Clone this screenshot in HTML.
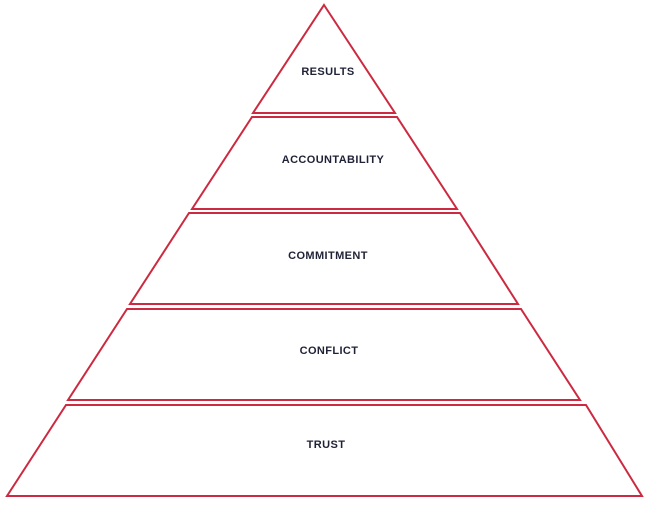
<!DOCTYPE html>
<html><head><style>body{margin:0;background:#fff}</style></head><body>
<svg width="648" height="502" viewBox="0 0 648 502" xmlns="http://www.w3.org/2000/svg">
<g fill="none" stroke="#cc2a40" stroke-width="2" stroke-linejoin="miter">
<polygon points="324,5 395,113 253,113"/>
<polygon points="252,117 397,117 457,209 192,209"/>
<polygon points="189,213 460,213 518,304 130,304"/>
<polygon points="127,309 521,309 580,400 68,400"/>
<polygon points="66,405 586,405 642,496 7,496"/>
</g>
<g font-family="Liberation Sans, sans-serif" font-weight="bold" font-size="11" letter-spacing="0.4" fill="#1f2236" text-anchor="middle">
<text x="328" y="75">RESULTS</text>
<text x="333" y="163">ACCOUNTABILITY</text>
<text x="328" y="259">COMMITMENT</text>
<text x="329" y="354">CONFLICT</text>
<text x="326" y="448">TRUST</text>
</g>
</svg>
</body></html>
